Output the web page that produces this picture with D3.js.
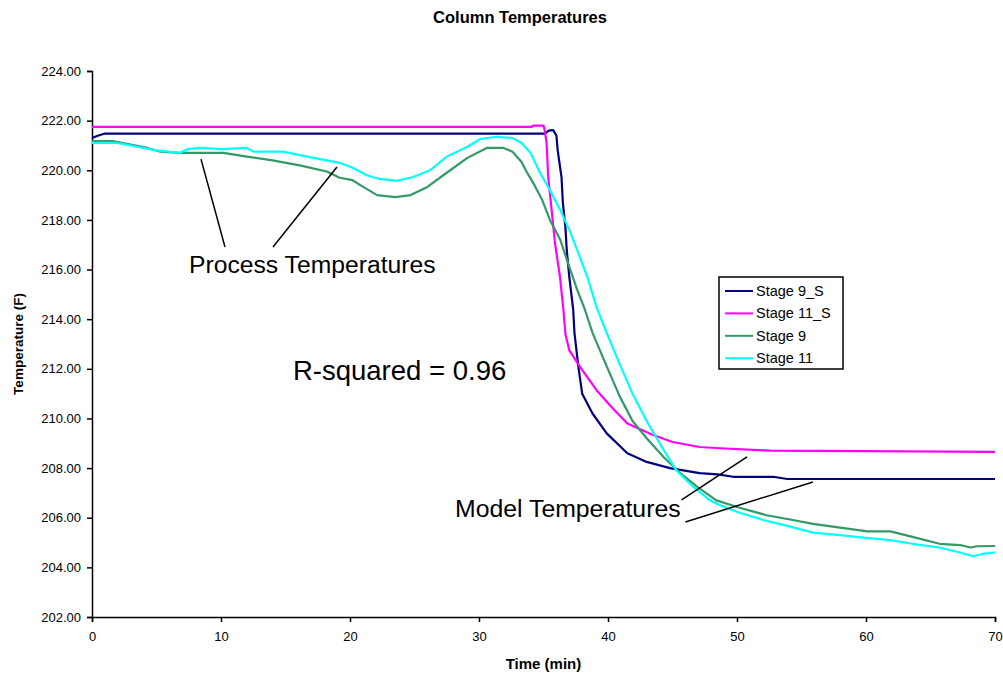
<!DOCTYPE html>
<html>
<head>
<meta charset="utf-8">
<script src="https://cdn.jsdelivr.net/npm/d3@7"></script>
<style>
  html, body { margin: 0; padding: 0; background: #fff; overflow: hidden; }
  svg { display: block; }
</style>
</head>
<body>
<svg id="chart"></svg>
<script>
// set up constants
const width = 1003;
const height = 679;
const margin = { top: 71, right: 8, bottom: 62, left: 92 };
const innerWidth = width - margin.left - margin.right;
const innerHeight = height - margin.top - margin.bottom;
const font = 'Arial, "Liberation Sans", sans-serif';

// data (time in min, temperature in F)
const stage9sTime = [0, 0.5, 1, 35.1, 35.4, 35.75, 36.0, 36.1, 36.4, 36.5, 36.7, 36.8, 37.0, 37.3, 37.4, 37.7, 38.0, 38.8, 39.9, 41.5, 43.0, 44.8, 47.1, 48.5, 49.7, 52.8, 53.9, 70];
const stage9sTemp = [221.3, 221.4, 221.48, 221.48, 221.6, 221.62, 221.4, 220.8, 219.7, 218.7, 217.7, 216.8, 215.7, 214.4, 213.45, 212.1, 211.0, 210.2, 209.4, 208.6, 208.25, 208.0, 207.8, 207.75, 207.65, 207.65, 207.56, 207.56];

const stage11sTime = [0, 34.1, 34.2, 35.0, 35.1, 35.24, 35.37, 35.63, 35.89, 36.28, 36.54, 36.7, 37.0, 37.8, 39.1, 40.2, 41.5, 43.5, 45.0, 47.1, 48.7, 52.6, 70];
const stage11sTemp = [221.75, 221.75, 221.8, 221.8, 221.6, 221.1, 219.7, 218.4, 217.07, 215.7, 214.4, 213.4, 212.75, 212.1, 211.15, 210.5, 209.8, 209.33, 209.05, 208.85, 208.8, 208.7, 208.65];

const stage9Time = [0, 1.6, 2.4, 4.3, 5.3, 6.8, 10.2, 12, 14, 16.1, 18.2, 19.2, 20.2, 20.8, 22.1, 23.5, 24.7, 26, 27.5, 29.1, 30.6, 31.9, 32.6, 33.3, 33.7, 34.3, 34.9, 35.5, 36.3, 36.9, 37.6, 38.2, 38.8, 39.9, 40.9, 41.9, 43.0, 44.3, 45.6, 46.9, 48.4, 50.2, 52.3, 53.9, 55.9, 58, 60.1, 61.9, 63.6, 65.7, 67.3, 68.1, 68.6, 70];
const stage9Temp = [221.18, 221.18, 221.1, 220.9, 220.75, 220.7, 220.7, 220.55, 220.4, 220.2, 219.95, 219.7, 219.6, 219.4, 219.0, 218.92, 219.0, 219.33, 219.9, 220.5, 220.9, 220.9, 220.75, 220.33, 219.93, 219.4, 218.8, 218.0, 217.2, 216.26, 215.2, 214.4, 213.45, 212.1, 210.9, 209.9, 209.2, 208.45, 207.8, 207.25, 206.7, 206.4, 206.1, 205.95, 205.75, 205.6, 205.45, 205.45, 205.23, 204.95, 204.9, 204.8, 204.85, 204.86];

const stage11Time = [0, 1.9, 2.4, 5.0, 6.8, 7.4, 8.4, 10, 12, 12.5, 14.8, 16.7, 19.2, 20.2, 21.3, 22.3, 23.6, 24.9, 26.2, 27.5, 29.1, 30.1, 31.4, 32.6, 33.3, 34.0, 34.7, 35.5, 36.3, 37.0, 37.6, 38.4, 39.1, 39.9, 40.9, 41.9, 43.0, 44.0, 45.3, 46.6, 47.9, 48.7, 50.2, 52.1, 53.9, 55.9, 58, 59.8, 61.9, 63.6, 65.7, 67.3, 68.3, 69.1, 70];
const stage11Temp = [221.1, 221.1, 221.06, 220.8, 220.7, 220.85, 220.9, 220.85, 220.9, 220.75, 220.75, 220.55, 220.3, 220.1, 219.8, 219.65, 219.57, 219.73, 220.0, 220.55, 220.95, 221.26, 221.35, 221.3, 221.1, 220.7, 219.93, 219.2, 218.4, 217.6, 216.8, 215.7, 214.5, 213.45, 212.2, 211.0, 209.9, 209.0, 207.9, 207.25, 206.7, 206.5, 206.2, 205.9, 205.67, 205.4, 205.3, 205.2, 205.1, 204.95, 204.8, 204.6, 204.45, 204.55, 204.6];

const seriesNames = ['Stage 9_S', 'Stage 11_S', 'Stage 9', 'Stage 11'];
const seriesColors = ['#000080', '#ff00ff', '#339966', '#00ffff'];
const xTicks = [0, 10, 20, 30, 40, 50, 60, 70];
const yTicks = [202, 204, 206, 208, 210, 212, 214, 216, 218, 220, 222, 224];

// annotations in data units: [t, T]
const processLabel = [7.52, 215.86];
const processArrows = [[[8.45, 220.45], [10.31, 216.91]], [[18.99, 220.13], [14.03, 216.91]]];
const modelLabel = [28.14, 206.03];
const modelArrows = [[[50.78, 208.45], [45.7, 206.72]], [[55.89, 207.44], [46.0, 205.83]]];
const rSquaredLabel = [15.58, 211.55];

const series = [
  d3.zip(stage9sTime, stage9sTemp),
  d3.zip(stage11sTime, stage11sTemp),
  d3.zip(stage9Time, stage9Temp),
  d3.zip(stage11Time, stage11Temp)
];

// create SVG element
const svg = d3.select('#chart')
  .attr('width', width)
  .attr('height', height)
  .attr('font-family', font);

// create scales
const xScale = d3.scaleLinear().domain([0, 70]).range([margin.left, margin.left + innerWidth]);
const yScale = d3.scaleLinear().domain([202, 224]).range([margin.top + innerHeight, margin.top]);

// axes
const xAxis = svg.append('g')
  .attr('transform', `translate(0, ${margin.top + innerHeight})`)
  .call(d3.axisBottom(xScale).tickValues(xTicks).tickSize(5).tickPadding(10).tickFormat(d3.format('d')));

const yAxis = svg.append('g')
  .attr('transform', `translate(${margin.left}, 0)`)
  .call(d3.axisLeft(yScale).tickValues(yTicks).tickSize(5).tickPadding(6).tickFormat(d3.format('.2f')));

[xAxis, yAxis].forEach(g => {
  g.attr('font-family', font).attr('font-size', 13);
  g.select('.domain').attr('stroke', '#000').attr('stroke-width', 1.5);
  g.selectAll('.tick line').attr('stroke', '#000').attr('stroke-width', 1.5);
  g.selectAll('.tick text').attr('fill', '#000');
});

// titles
svg.append('text')
  .attr('x', 520).attr('y', 23)
  .attr('text-anchor', 'middle')
  .attr('font-size', 16.5).attr('font-weight', 'bold')
  .text('Column Temperatures');

svg.append('text')
  .attr('x', xScale(35)).attr('y', 669)
  .attr('text-anchor', 'middle')
  .attr('font-size', 15).attr('font-weight', 'bold')
  .text('Time (min)');

svg.append('text')
  .attr('transform', `translate(23, ${yScale(213)}) rotate(-90)`)
  .attr('text-anchor', 'middle')
  .attr('font-size', 13.5).attr('font-weight', 'bold')
  .text('Temperature (F)');

// lines
const line = d3.line()
  .x(d => xScale(d[0]))
  .y(d => yScale(d[1]));

svg.append('g')
  .selectAll('path')
  .data(series)
  .enter()
  .append('path')
  .attr('d', line)
  .attr('fill', 'none')
  .attr('stroke', (d, i) => seriesColors[i])
  .attr('stroke-width', 2.2)
  .attr('stroke-linejoin', 'round');

// annotations
const notes = svg.append('g');
notes.selectAll('line')
  .data(processArrows.concat(modelArrows))
  .enter()
  .append('line')
  .attr('x1', d => xScale(d[0][0])).attr('y1', d => yScale(d[0][1]))
  .attr('x2', d => xScale(d[1][0])).attr('y2', d => yScale(d[1][1]))
  .attr('stroke', '#000').attr('stroke-width', 1.5);

[[processLabel, 'Process Temperatures', 24.7], [modelLabel, 'Model Temperatures', 24.8], [rSquaredLabel, 'R-squared = 0.96', 27.5]]
  .forEach(([p, label, size]) => {
    notes.append('text')
      .attr('x', xScale(p[0])).attr('y', yScale(p[1]))
      .attr('font-size', size)
      .text(label);
  });

// legend
const legend = svg.append('g').attr('transform', 'translate(719, 277)');
legend.append('rect')
  .attr('width', 124).attr('height', 92)
  .attr('fill', '#fff').attr('stroke', '#000').attr('stroke-width', 1.5);

const items = legend.selectAll('g.item')
  .data(seriesNames)
  .enter()
  .append('g')
  .attr('class', 'item')
  .attr('transform', (d, i) => `translate(0, ${14 + i * 22.4})`);

items.append('line')
  .attr('x1', 6).attr('x2', 34)
  .attr('stroke', (d, i) => seriesColors[i])
  .attr('stroke-width', 2);

items.append('text')
  .attr('x', 37).attr('y', 5)
  .attr('font-size', 14.5)
  .text(d => d);
</script>
</body>
</html>
